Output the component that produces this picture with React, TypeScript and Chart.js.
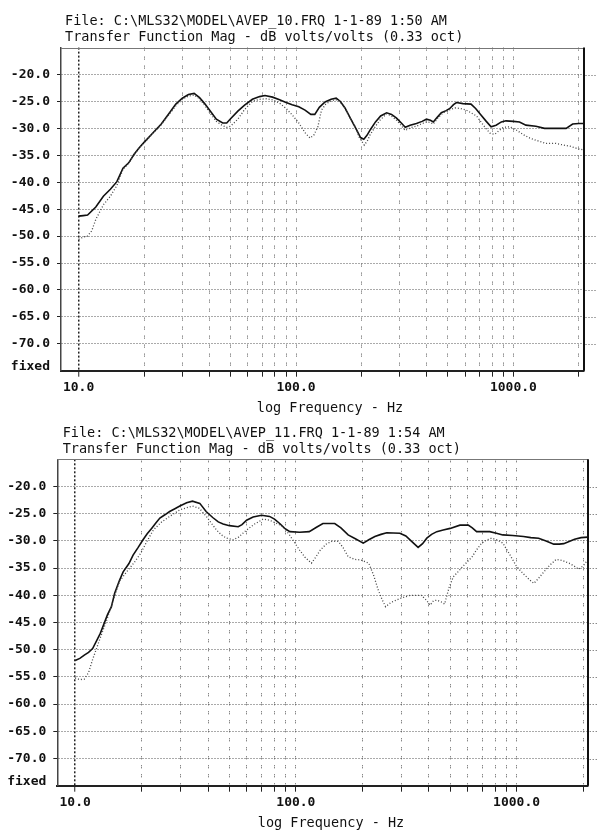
import React, { useEffect, useRef } from 'react';
import { Chart, registerables } from 'chart.js';

Chart.register(...registerables);

// ---------- text ----------
const TITLE_TOP = [
  'File: C:\\MLS32\\MODEL\\AVEP_10.FRQ 1-1-89 1:50 AM',
  'Transfer Function Mag - dB volts/volts (0.33 oct)',
];
const TITLE_BOTTOM = [
  'File: C:\\MLS32\\MODEL\\AVEP_11.FRQ 1-1-89 1:54 AM',
  'Transfer Function Mag - dB volts/volts (0.33 oct)',
];
const X_AXIS_TITLE = 'log Frequency - Hz';
const Y_FIXED_LABEL = 'fixed';

// ---------- axes ----------
const X_MIN = 8.3;
const X_MAX = 2100;
const X_TICKS = [10, 20, 30, 40, 50, 60, 70, 80, 90, 100, 200, 300, 400, 500, 600, 700, 800, 900, 1000, 2000];
const X_LABEL_VALUES = [10, 100, 1000];
const X_LABEL_TEXTS = ['10.0', '100.0', '1000.0'];
const Y_MIN = -75;
const Y_MAX = -15;
const Y_TICKS = [-75, -70, -65, -60, -55, -50, -45, -40, -35, -30, -25, -20, -15];

// ---------- data: top chart (AVEP_10) ----------
const TOP_SOLID_HZ = [10, 10.5, 11, 12, 13, 14, 15, 16, 17, 18, 19, 20, 22, 24, 26, 28, 30, 32, 34, 36, 38, 40, 43, 46, 48, 50, 54, 58, 63, 68, 72, 78, 84, 90, 96, 103, 110, 117, 122, 128, 136, 145, 153, 160, 168, 180, 190, 198, 205, 212, 220, 232, 245, 261, 275, 290, 305, 318, 335, 358, 380, 398, 415, 428, 445, 466, 490, 510, 530, 547, 586, 638, 670, 709, 750, 789, 832, 880, 924, 1000, 1066, 1141, 1268, 1390, 1550, 1747, 1872, 2000, 2100];
const TOP_SOLID_DB = [-46.3, -46.2, -46.1, -44.6, -42.6, -41.3, -39.9, -37.4, -36.4, -34.8, -33.6, -32.6, -30.8, -29.2, -27.3, -25.5, -24.4, -23.7, -23.5, -24.3, -25.4, -26.6, -28.3, -29.0, -29.0, -28.2, -26.8, -25.7, -24.6, -24.1, -23.9, -24.2, -24.7, -25.2, -25.6, -26.0, -26.6, -27.4, -27.4, -26.1, -25.1, -24.6, -24.4, -25.0, -26.2, -28.5, -30.3, -31.7, -32.0, -31.3, -30.2, -28.8, -27.7, -27.1, -27.4, -28.1, -29.0, -29.8, -29.4, -29.1, -28.7, -28.3, -28.5, -28.8, -28.0, -27.1, -26.7, -26.3, -25.6, -25.2, -25.4, -25.5, -26.3, -27.5, -28.7, -29.7, -29.4, -28.8, -28.6, -28.7, -28.8, -29.4, -29.6, -30.0, -30.0, -30.0, -29.2, -29.1, -29.1];
const TOP_DOTTED_HZ = [10, 10.5, 11, 11.5, 12, 13, 14, 15, 16, 17, 18, 19, 20, 22, 24, 26, 28, 30, 32, 34, 36, 38, 40, 43, 46, 48, 50, 54, 58, 63, 68, 73, 78, 84, 90, 96, 103, 110, 116, 121, 126, 131, 137, 143, 150, 156, 162, 168, 178, 187, 196, 206, 213, 219, 232, 243, 261, 275, 290, 305, 318, 335, 358, 380, 398, 415, 428, 450, 475, 505, 538, 570, 607, 677, 730, 780, 820, 860, 898, 963, 1030, 1114, 1190, 1268, 1414, 1570, 1700, 1819, 1950, 2090];
const TOP_DOTTED_DB = [-50.6, -50.2, -50.0, -49.0, -46.9, -44.2, -42.6, -40.6, -37.6, -36.5, -34.9, -33.7, -32.7, -30.9, -29.3, -27.5, -25.8, -24.6, -24.0, -23.8, -24.5, -25.7, -27.0, -28.7, -29.5, -29.8, -29.6, -28.3, -26.5, -25.0, -24.6, -24.5, -24.7, -25.3, -26.3, -27.5, -29.0, -30.8, -31.8, -31.2, -29.7, -26.6, -25.5, -25.0, -24.7, -24.7, -25.4, -26.3, -28.2, -29.7, -31.8, -33.1, -32.3, -31.2, -29.6, -28.5, -27.3, -27.7, -28.5, -29.5, -30.4, -29.9, -29.6, -29.1, -28.8, -28.9, -29.2, -28.0, -27.1, -26.6, -26.2, -26.3, -26.6, -27.7, -29.5, -30.9, -31.1, -30.4, -29.8, -29.7, -30.3, -31.2, -31.8, -32.2, -32.8, -32.8, -33.1, -33.3, -33.7, -34.0];

// ---------- data: bottom chart (AVEP_11) ----------
const BOT_SOLID_HZ = [10, 10.5, 11, 11.5, 12, 13, 14, 14.6, 15.1, 15.9, 16.5, 17.5, 18.3, 19.3, 20.3, 21.2, 22.2, 23.2, 24.2, 25.5, 26.8, 28.3, 29.8, 32, 34, 36.7, 39.2, 42, 44.5, 46.8, 50, 54.8, 57, 59.8, 64, 69.9, 76, 80, 84.5, 89, 93.9, 104, 115, 124, 132.6, 150, 160, 172.5, 186, 202, 214, 228, 243, 258, 296, 315, 329, 345, 358, 375, 392, 412, 435, 465, 500, 554, 604, 630, 659, 700, 756, 810, 866, 960, 1075, 1160, 1258, 1360, 1474, 1560, 1635, 1730, 1832, 1960, 2100];
const BOT_SOLID_DB = [-52.0, -51.6, -51.0, -50.5, -49.8, -47.0, -43.6, -42.1, -39.6, -37.2, -35.7, -34.2, -32.6, -31.2, -29.8, -28.7, -27.7, -26.7, -25.8, -25.2, -24.6, -24.1, -23.6, -23.0, -22.7, -23.1, -24.6, -25.7, -26.5, -26.9, -27.2, -27.4, -27.0, -26.2, -25.6, -25.3, -25.5, -26.0, -26.8, -27.7, -28.3, -28.4, -28.3, -27.5, -26.8, -26.8, -27.6, -28.9, -29.6, -30.4, -29.8, -29.2, -28.8, -28.5, -28.6, -29.1, -29.8, -30.6, -31.2, -30.5, -29.5, -28.8, -28.3, -28.0, -27.7, -27.1, -27.1, -27.6, -28.3, -28.3, -28.3, -28.6, -28.9, -29.0, -29.2, -29.4, -29.5, -30.0, -30.6, -30.6, -30.5, -30.1, -29.7, -29.4, -29.3];
const BOT_DOTTED_HZ = [10, 10.5, 11, 11.5, 12, 13, 14, 15, 15.9, 17.1, 18.5, 19.8, 21, 22.6, 24.5, 26.8, 29.8, 32, 34, 36.5, 39.3, 41.5, 43.7, 46, 48.5, 52, 55, 59.8, 65, 71, 76, 82, 87.7, 93.9, 99, 104, 110, 117.6, 123, 129, 137, 145, 156, 164, 172.5, 185, 197, 214, 225, 236, 246, 255, 270, 296, 329, 370, 390, 406, 420, 435, 455, 472, 495, 517, 545, 570, 600, 629, 660, 695, 735, 770, 815, 866, 925, 1000, 1070, 1148, 1197, 1250, 1317, 1410, 1512, 1610, 1728, 1820, 1910, 2000, 2100];
const BOT_DOTTED_DB = [-55.2, -55.5, -55.4, -54.2, -51.8, -47.8, -44.2, -40.5, -37.4, -35.7, -34.0, -32.3, -30.3, -28.0, -26.6, -25.5, -24.3, -23.9, -23.6, -24.0, -25.5, -26.8, -28.0, -28.9, -29.5, -29.8, -29.3, -28.0, -26.9, -26.0, -26.2, -26.8, -27.4, -29.0, -30.4, -31.7, -33.0, -34.1, -33.0, -31.7, -30.6, -30.1, -30.1, -31.3, -32.9, -33.4, -33.5, -34.1, -36.3, -39.0, -40.8, -42.1, -41.3, -40.6, -40.0, -40.0, -40.9, -41.8, -41.0, -40.9, -41.2, -41.6, -38.5, -36.6, -35.6, -34.7, -33.8, -32.9, -31.6, -30.4, -29.8, -29.5, -29.8, -30.4, -32.3, -34.7, -36.0, -37.2, -37.8, -37.0, -35.9, -34.5, -33.4, -33.6, -34.1, -34.6, -35.2, -34.6, -33.5];

const MONO = '"DejaVu Sans Mono", "Liberation Mono", monospace';
const W = 597;

function zip(hz: number[], db: number[]) {
  const n = Math.min(hz.length, db.length);
  const out: { x: number; y: number }[] = [];
  for (let i = 0; i < n; i++) out.push({ x: hz[i], y: db[i] });
  return out;
}

type Layout = {
  top: number;
  height: number;
  plotLeft: number;
  plotRight: number;
  plotTop: number;
  plotBottom: number;
  titleX: number;
  titleY1: number;
  titleY2: number;
  axisTitleY: number;
  axisTitleX: number;
};

function makePlugin(layout: Layout, titles: string[]) {
  return {
    id: 'mlsExtras',
    afterDraw(chart: any) {
      const { ctx, chartArea: a } = chart;
      const yScale = chart.scales.y;
      ctx.save();
      // horizontal grid continuation beyond the right frame
      ctx.strokeStyle = '#555';
      ctx.lineWidth = 1;
      ctx.setLineDash([1, 2]);
      for (const v of Y_TICKS) {
        if (v <= Y_MIN || v >= Y_MAX) continue;
        const y = Math.round(yScale.getPixelForValue(v)) + 0.5;
        ctx.beginPath();
        ctx.moveTo(a.right + 2, y);
        ctx.lineTo(W, y);
        ctx.stroke();
      }
      ctx.setLineDash([]);
      // top frame
      ctx.strokeStyle = '#777';
      ctx.lineWidth = 1;
      ctx.beginPath();
      ctx.moveTo(a.left, Math.round(a.top) + 0.5);
      ctx.lineTo(a.right, Math.round(a.top) + 0.5);
      ctx.stroke();
      // right frame
      ctx.strokeStyle = '#111';
      ctx.lineWidth = 2;
      ctx.beginPath();
      ctx.moveTo(Math.round(a.right), a.top);
      ctx.lineTo(Math.round(a.right), a.bottom);
      ctx.stroke();
      // "fixed" label at the bottom of the y axis
      ctx.fillStyle = '#111';
      ctx.font = 'bold 13px ' + MONO;
      ctx.textAlign = 'right';
      ctx.textBaseline = 'middle';
      ctx.fillText(Y_FIXED_LABEL, a.left - 11, a.bottom - 4);
      // titles
      ctx.font = '13.5px ' + MONO;
      ctx.textAlign = 'left';
      ctx.fillText(titles[0], layout.titleX, layout.titleY1);
      ctx.fillText(titles[1], layout.titleX, layout.titleY2);
      // x axis title
      ctx.textAlign = 'center';
      ctx.fillText(X_AXIS_TITLE, layout.axisTitleX, layout.axisTitleY);
      ctx.restore();
    },
  };
}

function FreqChart(props: {
  layout: Layout;
  titles: string[];
  solidHz: number[];
  solidDb: number[];
  dottedHz: number[];
  dottedDb: number[];
}) {
  const ref = useRef<HTMLCanvasElement | null>(null);
  const { layout } = props;
  useEffect(() => {
    if (!ref.current) return;
    const L = layout;
    const chart = new Chart(ref.current, {
      type: 'line',
      data: {
        datasets: [
          {
            label: 'dotted',
            data: zip(props.dottedHz, props.dottedDb),
            borderColor: '#444',
            borderWidth: 1.3,
            borderDash: [1, 2],
            pointRadius: 0,
            tension: 0,
            fill: false,
          },
          {
            label: 'solid',
            data: zip(props.solidHz, props.solidDb),
            borderColor: '#111',
            borderWidth: 1.6,
            pointRadius: 0,
            tension: 0,
            fill: false,
          },
        ],
      },
      options: {
        responsive: false,
        animation: false,
        devicePixelRatio: 1,
        layout: {
          padding: { left: 0, top: L.plotTop, right: W - L.plotRight, bottom: 0 },
        },
        plugins: {
          legend: { display: false },
          tooltip: { enabled: false },
          title: { display: false },
        },
        scales: {
          x: {
            type: 'logarithmic',
            min: X_MIN,
            max: X_MAX,
            afterBuildTicks: (s: any) => {
              s.ticks = X_TICKS.map((v) => ({ value: v }));
            },
            afterFit: (s: any) => {
              s.height = L.height - L.plotBottom;
            },
            ticks: {
              autoSkip: false,
              maxRotation: 0,
              minRotation: 0,
              padding: 3,
              color: '#111',
              font: { family: MONO, size: 13, weight: 'bold' },
              callback: (v: any) => {
                const i = X_LABEL_VALUES.indexOf(Number(v));
                return i >= 0 ? X_LABEL_TEXTS[i] : '';
              },
            },
            grid: {
              color: (c: any) => (c.tick && c.tick.value === 10 ? '#222' : '#555'),
              lineWidth: (c: any) => (c.tick && c.tick.value === 10 ? 1.5 : 1),
              drawTicks: true,
              tickLength: 6,
              tickWidth: 1,
              tickColor: '#222',
            },
            border: {
              display: true,
              color: '#222',
              width: 2,
              dash: (c: any) => (c.tick ? (c.tick.value === 10 ? [2, 2] : [1, 1, 1, 6]) : []),
            },
          },
          y: {
            type: 'linear',
            min: Y_MIN,
            max: Y_MAX,
            afterBuildTicks: (s: any) => {
              s.ticks = Y_TICKS.map((v) => ({ value: v }));
            },
            afterFit: (s: any) => {
              s.width = L.plotLeft;
            },
            ticks: {
              autoSkip: false,
              padding: 7,
              color: '#111',
              font: { family: MONO, size: 13, weight: 'bold' },
              callback: (v: any) => {
                const n = Number(v);
                if (n <= Y_MIN || n >= Y_MAX) return '';
                return n.toFixed(1);
              },
            },
            grid: {
              color: (c: any) =>
                c.tick && (c.tick.value <= Y_MIN || c.tick.value >= Y_MAX) ? 'rgba(0,0,0,0)' : '#555',
              lineWidth: 1,
              drawTicks: true,
              tickLength: 4,
              tickWidth: 1,
              tickColor: (c: any) =>
                c.tick && (c.tick.value <= Y_MIN || c.tick.value >= Y_MAX) ? 'rgba(0,0,0,0)' : '#222',
            },
            border: {
              display: true,
              color: '#444',
              width: 1.5,
              dash: (c: any) => (c.tick ? [1, 2] : []),
            },
          },
        },
      } as any,
      plugins: [makePlugin(L, props.titles) as any],
    });
    return () => chart.destroy();
  }, []);
  return (
    <canvas
      ref={ref}
      width={W}
      height={layout.height}
      style={{ position: 'absolute', left: 0, top: layout.top, width: W, height: layout.height, display: 'block' }}
    />
  );
}

const LAYOUT_TOP: Layout = {
  top: 0,
  height: 420,
  plotLeft: 61,
  plotRight: 583.5,
  plotTop: 47.6,
  plotBottom: 370.7,
  titleX: 65,
  titleY1: 21.3,
  titleY2: 37.2,
  axisTitleY: 408,
  axisTitleX: 330,
};

const LAYOUT_BOTTOM: Layout = {
  top: 412,
  height: 418,
  plotLeft: 57.3,
  plotRight: 587.7,
  plotTop: 47.3,
  plotBottom: 373.7,
  titleX: 62.7,
  titleY1: 21.3,
  titleY2: 37.5,
  axisTitleY: 411,
  axisTitleX: 331,
};

export default function App() {
  return (
    <div style={{ position: 'absolute', left: 0, top: 0, width: W, height: 830, background: '#fff', overflow: 'hidden' }}>
      <FreqChart
        layout={LAYOUT_TOP}
        titles={TITLE_TOP}
        solidHz={TOP_SOLID_HZ}
        solidDb={TOP_SOLID_DB}
        dottedHz={TOP_DOTTED_HZ}
        dottedDb={TOP_DOTTED_DB}
      />
      <FreqChart
        layout={LAYOUT_BOTTOM}
        titles={TITLE_BOTTOM}
        solidHz={BOT_SOLID_HZ}
        solidDb={BOT_SOLID_DB}
        dottedHz={BOT_DOTTED_HZ}
        dottedDb={BOT_DOTTED_DB}
      />
    </div>
  );
}
